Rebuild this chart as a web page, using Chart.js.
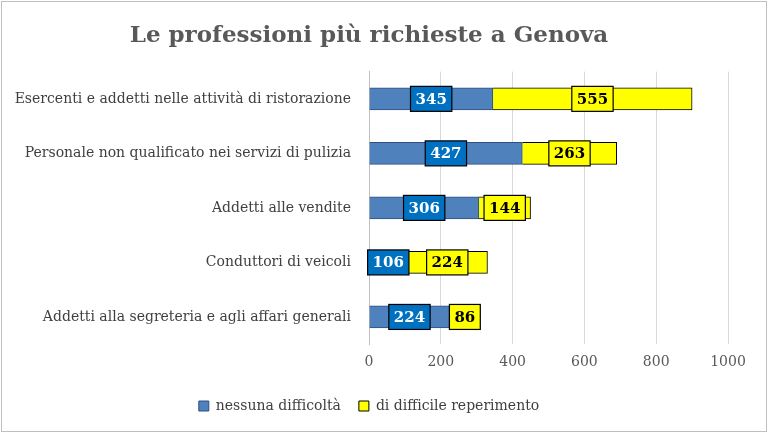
<!DOCTYPE html>
<html><head><meta charset="utf-8">
<script src="https://cdn.jsdelivr.net/npm/chart.js@4/dist/chart.umd.min.js"></script>
<style>html,body{margin:0;padding:0;background:#fff}#w{position:absolute;left:1px;top:1px;width:764px;height:429px;border:1px solid #bfbfbf}</style>
</head><body><div id="w"><canvas id="c"></canvas></div>
<script>
const categories=["Esercenti e addetti nelle attività di ristorazione","Personale non qualificato nei servizi di pulizia","Addetti alle vendite","Conduttori di veicoli","Addetti alla segreteria e agli affari generali"];
const nessuna=[345,427,306,106,224];
const difficile=[555,263,144,224,86];
const ticks=[0,200,400,600,800,1000];
const F="'DejaVu Serif','Liberation Serif',serif";
const boxLabels={id:'boxLabels',afterDatasetsDraw(ch){const ctx=ch.ctx;ctx.save();ctx.font="bold 15px "+F;ctx.textAlign='center';ctx.textBaseline='middle';
ch.data.datasets.forEach((ds,di)=>{ch.getDatasetMeta(di).data.forEach((el,i)=>{const cx=(el.x+el.base)/2,cy=el.y;const t=String(ds.data[i]);const w=ctx.measureText(t).width+10,h=25;
ctx.fillStyle=di==0?'#0070c0':'#ffff00';ctx.fillRect(cx-w/2,cy-h/2,w,h);ctx.strokeStyle='#000';ctx.lineWidth=1.2;ctx.strokeRect(cx-w/2,cy-h/2,w,h);
ctx.fillStyle=di==0?'#fff':'#000';ctx.fillText(t,cx,cy+1);});});ctx.restore();}};
new Chart(document.getElementById('c'),{type:'bar',
data:{labels:categories,datasets:[
{label:'nessuna difficoltà',data:nessuna,backgroundColor:'#4f81bd',borderColor:'#2f4f7f',borderWidth:1,barThickness:22},
{label:'di difficile reperimento',data:difficile,backgroundColor:'#ffff00',borderColor:'#000',borderWidth:1,barThickness:22}]},
options:{indexAxis:'y',responsive:true,maintainAspectRatio:false,animation:false,
layout:{padding:{left:8,right:38,top:6,bottom:8}},
plugins:{title:{display:true,text:'Le professioni più richieste a Genova',color:'#595959',font:{family:F,size:23,weight:'bold'},padding:{top:14,bottom:22}},
legend:{position:'bottom',labels:{color:'#404040',font:{family:F,size:14},boxWidth:10,boxHeight:10,padding:18}},tooltip:{enabled:false}},
scales:{x:{stacked:true,min:0,max:1000,afterBuildTicks:a=>{a.ticks=ticks.map(v=>({value:v}))},grid:{color:'#d9d9d9',drawTicks:false},border:{display:false},ticks:{color:'#595959',font:{family:F,size:14},padding:10,callback:v=>String(v)}},
y:{stacked:true,grid:{display:false},border:{color:'#bfbfbf'},ticks:{color:'#404040',font:{family:F,size:14},padding:10}}}},
plugins:[boxLabels]});
</script></body></html>
